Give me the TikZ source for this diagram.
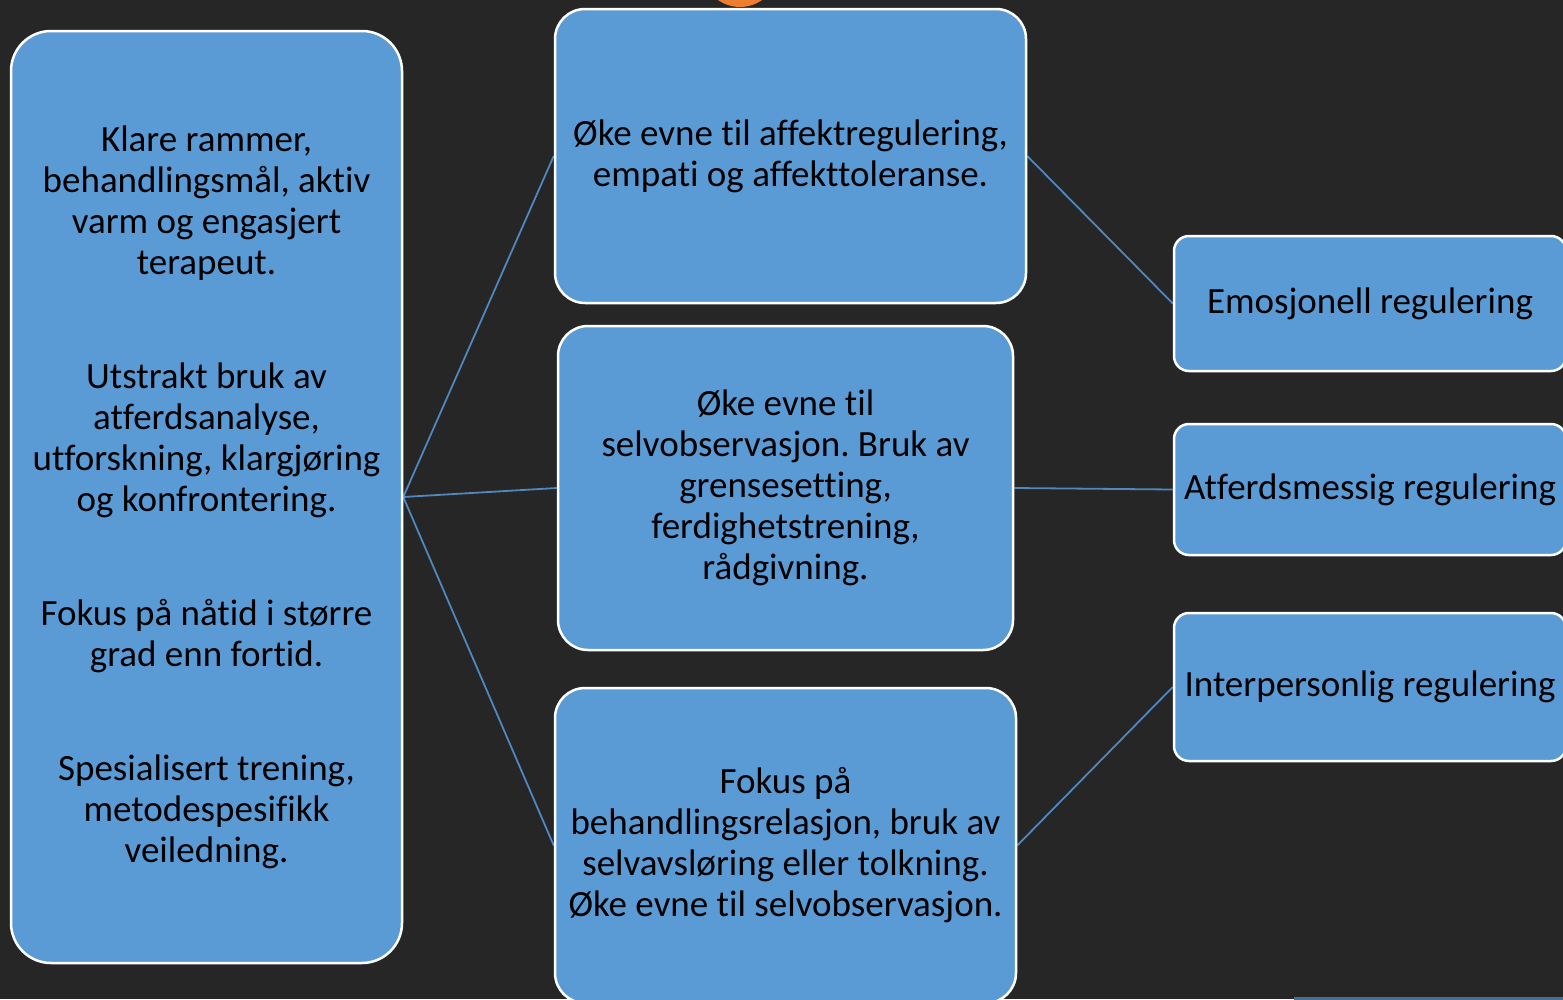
\documentclass[tikz,border=0pt]{standalone}
\usepackage{fontspec}
\setmainfont[Ligatures=NoCommon]{Carlito}
\usetikzlibrary{backgrounds}
\definecolor{bgc}{HTML}{262626}
\definecolor{boxfill}{HTML}{5B9BD5}
\definecolor{linec}{HTML}{4F87BE}
\definecolor{orangec}{HTML}{ED7D31}
\definecolor{edgec}{HTML}{41719C}
\pgfdeclarelayer{bottomlayer}
\pgfsetlayers{bottomlayer,background,main}
\frenchspacing
\begin{document}
\begin{tikzpicture}[x=1pt,y=-1pt,
  box/.style={draw=white, line width=2.5pt, fill=boxfill, rounded corners=#1,
    inner sep=0pt, align=center, text=black,
    font=\fontsize{37}{41}\selectfont},
  box/.default=30pt,
  conn/.style={draw=linec, line width=1.8pt}]
\useasboundingbox (0,0) rectangle (1563,999);
\clip (0,0) rectangle (1563,999);
\begin{pgfonlayer}{bottomlayer}
\fill[bgc] (0,0) rectangle (1563,999);
\fill[orangec] (740,-31) circle (38);
\fill[edgec] (1294,997) rectangle (1570,1002);
\end{pgfonlayer}

\node[box=40pt, minimum width=391pt, minimum height=932pt] (left) at (206.5,497)
  {Klare rammer,\\ behandlingsmål, aktiv\\ varm og engasjert\\ terapeut.\\[73pt]
   Utstrakt bruk av\\ atferdsanalyse,\\ utforskning, klargjøring\\ og konfrontering.\\[73pt]
   Fokus på nåtid i større\\ grad enn fortid.\\[73pt]
   Spesialisert trening,\\ metodespesifikk\\ veiledning.};

\node[box, minimum width=471pt, minimum height=294pt] (m1) at (790.5,156)
  {Øke evne til affektregulering,\\ empati og affekttoleranse.};
\node[box, minimum width=455pt, minimum height=324pt] (m2) at (785.5,488)
  {Øke evne til\\ selvobservasjon. Bruk av\\ grensesetting,\\ ferdighetstrening,\\ rådgivning.};
\node[box, minimum width=461pt, minimum height=315pt] (m3) at (785.5,845.5)
  {Fokus på\\ behandlingsrelasjon, bruk av\\ selvavsløring eller tolkning.\\ Øke evne til selvobservasjon.};

\node[box=15pt, minimum width=392pt, minimum height=135pt] (r1) at (1370,303.5)
  {Emosjonell regulering};
\node[box=15pt, minimum width=392pt, minimum height=131pt] (r2) at (1370,489.5)
  {Atferdsmessig regulering};
\node[box=15pt, minimum width=392pt, minimum height=148pt] (r3) at (1370,687)
  {Interpersonlig regulering};

\begin{pgfonlayer}{background}
\draw[conn] (left.east) -- (m1.west);
\draw[conn] (left.east) -- (m2.west);
\draw[conn] (left.east) -- (m3.west);
\draw[conn] (m1.east) -- (r1.west);
\draw[conn] (m2.east) -- (r2.west);
\draw[conn] (m3.east) -- (r3.west);
\end{pgfonlayer}
\end{tikzpicture}
\end{document}
